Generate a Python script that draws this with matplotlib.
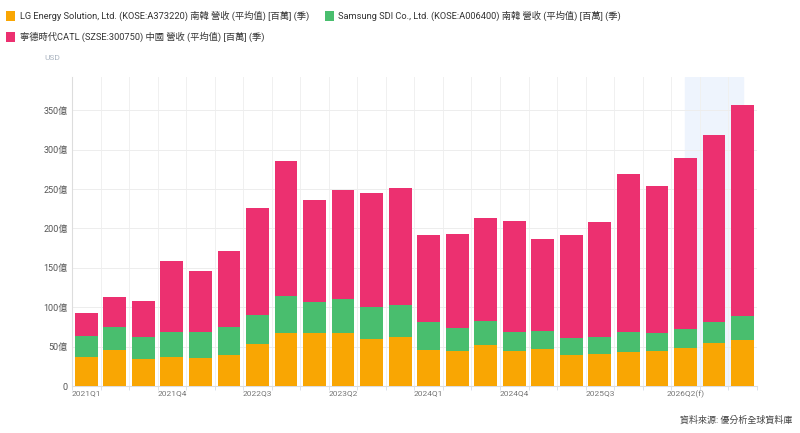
import numpy as np
import matplotlib.pyplot as plt

plt.rcParams['font.family'] = ['Roboto', 'Noto Sans CJK TC', 'DejaVu Sans']

# ================================
# DATA (USD, 億)
# ================================
quarters = ['2021Q1', '2021Q2', '2021Q3', '2021Q4', '2022Q1', '2022Q2', '2022Q3', '2022Q4',
            '2023Q1', '2023Q2', '2023Q3', '2023Q4', '2024Q1', '2024Q2', '2024Q3', '2024Q4',
            '2025Q1', '2025Q2', '2025Q3', '2025Q4', '2026Q1', '2026Q2(f)', '2026Q3(f)', '2026Q4(f)']
lg = [37, 45.6, 34.2, 37, 35.9, 38.9, 52.8, 67.6, 66.7, 66.7, 59.6, 61.7,
      45.6, 44.8, 52, 44.4, 47.3, 38.9, 40.2, 43.1, 44, 47.7, 54.9, 58.3]
lg_sdi_total = [63.8, 74.4, 62.5, 68.8, 68.8, 75.2, 90, 114.5, 106.9, 111, 100.5, 102.2,
                81.1, 73.9, 82, 68.4, 69.3, 61.2, 62.1, 68.8, 66.7, 71.8, 81.5, 88.7]
grand_total = [93, 113, 107.7, 158.8, 145.8, 171.5, 226, 286, 236.6, 248.4, 245, 251.8,
               191.4, 193, 213.8, 209.5, 186.3, 192.2, 208.7, 269.6, 254.4, 289, 318.5, 356]

sdi = np.array(lg_sdi_total) - np.array(lg)
catl = np.array(grand_total) - np.array(lg_sdi_total)

labels = ['LG Energy Solution, Ltd. (KOSE:A373220) 南韓 營收 (平均值) [百萬] (季)',
          'Samsung SDI Co., Ltd. (KOSE:A006400) 南韓 營收 (平均值) [百萬] (季)',
          '寧德時代CATL (SZSE:300750) 中國 營收 (平均值) [百萬] (季)']
colors = ['#F9A603', '#49BE6E', '#EC3070']

# ================================
# CHART
# ================================
fig = plt.figure(figsize=(8, 4.33), dpi=100)
ax = fig.add_axes([0.09, 0.1085, 0.856, 0.7135])

x = np.arange(len(quarters))
ax.axvspan(21, 23, color='#EEF4FD', zorder=0)
ax.bar(x, lg, width=0.8, color=colors[0], zorder=3)
ax.bar(x, sdi, width=0.8, bottom=lg, color=colors[1], zorder=3)
ax.bar(x, catl, width=0.8, bottom=lg_sdi_total, color=colors[2], zorder=3)

ax.set_xlim(-0.5, len(quarters) - 0.5)
ax.set_ylim(0, 392)

yt = np.arange(0, 351, 50)
ax.set_yticks(yt)
ax.set_yticklabels(['0'] + [f'{v}億' for v in yt[1:]], fontsize=6.5, color='#555555')
ax.set_xticks(x[::3])
ax.set_xticklabels(quarters[::3], fontsize=6, color='#777777')
ax.set_xticks(np.arange(-0.5, len(quarters), 1), minor=True)
ax.tick_params(axis='x', which='major', length=0, pad=3)
ax.tick_params(axis='x', which='minor', length=3, color='#D5DDE8')
ax.tick_params(axis='y', length=0, pad=3)

ax.grid(axis='y', color='#EDEDED', linewidth=0.7, zorder=0)
ax.grid(axis='x', which='minor', color='#F0F0F0', linewidth=0.7, zorder=0)
for s in ['top', 'right']:
    ax.spines[s].set_visible(False)
ax.spines['left'].set_color('#DDDDDD')
ax.spines['bottom'].set_color('#DDDDDD')

fig.text(0.055, 0.866, 'USD', fontsize=6, color='#AAB4C0', va='center')

# legend (manual layout)
leg_pos = [(0.008, 0.963), (0.406, 0.963), (0.008, 0.915)]
for (lx, ly), lab, c in zip(leg_pos, labels, colors):
    fig.patches.append(plt.Rectangle((lx, ly - 0.011), 0.011, 0.022, transform=fig.transFigure,
                                     facecolor=c, edgecolor='none'))
    fig.text(lx + 0.017, ly, lab, fontsize=6.7, color='#333333', va='center')

fig.text(0.99, 0.03, '資料來源: 優分析全球資料庫', fontsize=6.5, color='#444444',
         ha='right', va='center')

plt.savefig('out.png', dpi=100)
